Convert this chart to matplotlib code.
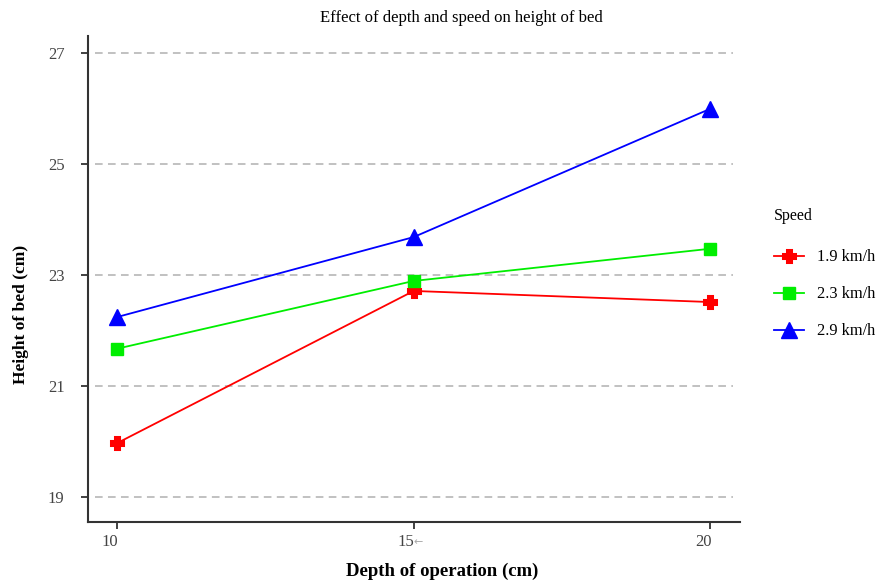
import matplotlib
matplotlib.use("Agg")
import matplotlib.pyplot as plt
import matplotlib.transforms as mtransforms

depth = [10, 15, 20]
speed_labels = ["1.9 km/h", "2.3 km/h", "2.9 km/h"]
h_19 = [19.97, 22.71, 22.51]
h_23 = [21.67, 22.89, 23.47]
h_29 = [22.24, 23.68, 25.99]
yticks = [19, 21, 23, 25, 27]
xticks = [10, 15, 20]
xtick_labels = ["10", "15", "20"]

plt.rcParams['font.family'] = ['Liberation Serif', 'DejaVu Serif']

fig = plt.figure(figsize=(8.82, 5.81), dpi=100)
ax = fig.add_axes([88/882, 1-522/581, (740-88)/882, (522-36)/581])

styles = [dict(color="#ff0000", marker="P", markersize=8.5, markeredgewidth=2.2, markeredgecolor="#ff0000"),
          dict(color="#00ee00", marker="s", markersize=9),
          dict(color="#0000ff", marker="^", markersize=11)]
handles = []
for vals, st, lab in zip([h_19, h_23, h_29], styles, speed_labels):
    h, = ax.plot(depth, vals, linewidth=1.3, label=lab, zorder=3, **st)
    handles.append(h)

ax.set_xlim(9.51, 20.5)
ax.set_ylim(18.55, 27.3)
ax.set_yticks(yticks)
ax.set_xticks(xticks)
ax.set_xticklabels([""] * len(xticks))
for y in yticks:
    ax.axhline(y, color="#b0b0b0", linestyle=(0, (5, 3.5)), linewidth=1.1, zorder=1, xmin=0.01, xmax=0.99)

for s in ["top", "right"]:
    ax.spines[s].set_visible(False)
for s in ["left", "bottom"]:
    ax.spines[s].set_linewidth(1.5)
    ax.spines[s].set_color("#333333")
xpad_pt = 4
ax.tick_params(axis="both", direction="out", length=5, width=1.3, colors="#333333",
               labelsize=12, labelcolor="#444444")
ax.tick_params(axis="y", pad=12)
ax.tick_params(axis="x", pad=xpad_pt)

# x tick labels (the middle one followed by a small grey arrow)
trans = mtransforms.blended_transform_factory(ax.transData, ax.transAxes)
off_y = -(5 + xpad_pt) * 100 / 72
for xv, lab in zip(xticks, xtick_labels):
    ax.text(xv, 0, lab, fontsize=12, color="#444444", ha="right", va="top",
            transform=mtransforms.offset_copy(trans, fig=fig, x=1, y=off_y, units="dots"))
ax.text(15, 0, "←", fontsize=8, color="#aaaaaa", ha="left", va="top",
        family=['DejaVu Sans'],
        transform=mtransforms.offset_copy(trans, fig=fig, x=0, y=off_y - 3, units="dots"))

fig.text(461.5/882, 1-18/581, "Effect of depth and speed on height of bed", fontsize=12,
         ha="center", va="center")
ax.set_xlabel("Depth of operation (cm)", fontsize=13.5, fontweight="bold")
ax.xaxis.set_label_coords((442.5-88)/652, (522-563)/486)
ax.set_ylabel("Height of bed (cm)", fontsize=12.5, fontweight="bold")
ax.yaxis.set_label_coords((29-88)/652, (522-314)/486)

leg = fig.legend(handles=handles, labels=speed_labels, title="Speed", loc="upper left",
                 bbox_to_anchor=(774/882, 1-208/581), frameon=False, fontsize=11.8,
                 title_fontsize=11.5, handlelength=1.8, handletextpad=0.85,
                 labelspacing=1.28, borderpad=0, borderaxespad=0)
leg._legend_box.align = "left"
try:
    leg._legend_box.sep = 1.55 * 11.8
except Exception:
    pass

fig.savefig("out.png", dpi=100)
